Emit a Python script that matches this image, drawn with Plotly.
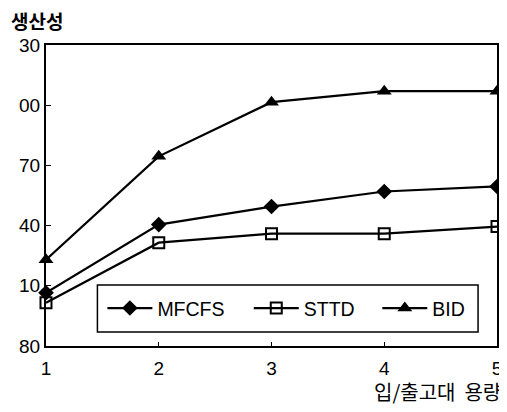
import plotly.graph_objects as go

x_vals = [1, 2, 3, 4, 5]
mfcfs = [106.5, 140.5, 149.5, 157, 159.5]
sttd = [101.5, 131.5, 136, 136, 139.5]
bid = [123, 174.5, 201.5, 207, 207]

y_tickvals = [80, 110, 140, 170, 200, 230]
y_ticktext = ["80", "10", "40", "70", "00", "30"]
x_tickvals = [1, 2, 3, 4, 5]
x_ticktext = ["1", "2", "3", "4", "5"]

font_sans = "Liberation Sans, Arial, sans-serif"
font_kr = "Noto Sans CJK KR"

fig = go.Figure()
series = [
    ("MFCFS", mfcfs, dict(symbol="diamond", size=12, color="black"), "legend", 0.125),
    ("STTD", sttd, dict(symbol="square-open", size=11, color="black", line=dict(width=2, color="black")), "legend2", 0.4496),
    ("BID", bid, dict(symbol="triangle-up", size=13, color="black"), "legend3", 0.7346),
]
legend_layouts = {}
for name, vals, marker, leg, lx in series:
    fig.add_trace(go.Scatter(
        x=x_vals, y=vals, name=name, mode="lines+markers",
        line=dict(color="black", width=2.2), marker=marker,
        cliponaxis=False, legend=leg,
    ))
    legend_layouts[leg] = dict(
        x=lx, y=0.125, xanchor="left", yanchor="middle",
        borderwidth=0, bgcolor="rgba(0,0,0,0)",
        font=dict(family=font_sans, size=19.5, color="black"),
        itemwidth=45,
    )

fig.update_layout(
    width=499, height=404,
    margin=dict(l=38, r=5, t=37, b=66),
    paper_bgcolor="white", plot_bgcolor="white",
    showlegend=True,
    shapes=[
        dict(type="rect", xref="paper", yref="paper", x0=0.114, x1=0.958,
             y0=0.0465, y1=0.2027, line=dict(color="black", width=1.5),
             fillcolor="white", layer="above"),
    ],
    xaxis=dict(
        range=[1, 5], tickvals=x_tickvals, ticktext=x_ticktext,
        showgrid=False, zeroline=False, showline=True, linecolor="black",
        linewidth=2, mirror=True, ticks="inside", ticklen=4, tickcolor="black",
        tickfont=dict(family=font_sans, size=19, color="black"),
        ticklabelstandoff=4,
    ),
    yaxis=dict(
        range=[80, 230], tickvals=y_tickvals, ticktext=y_ticktext,
        showgrid=False, zeroline=False, showline=True, linecolor="black",
        linewidth=2, mirror=True, ticks="inside", ticklen=5, tickcolor="black",
        tickfont=dict(family=font_sans, size=19, color="black"),
    ),
    annotations=[
        dict(text="<b>생산성</b>", xref="paper", yref="paper", x=-0.081, y=1.083,
             xanchor="left", yanchor="middle", showarrow=False,
             font=dict(family=font_kr, size=19, color="black")),
        dict(text="입/출고대&nbsp;&nbsp;용량", xref="paper", yref="paper", x=1.013, y=-0.150,
             xanchor="right", yanchor="middle", showarrow=False,
             font=dict(family=font_kr, size=20, color="black")),
    ],
    **legend_layouts,
)

fig.write_html("out.html")
